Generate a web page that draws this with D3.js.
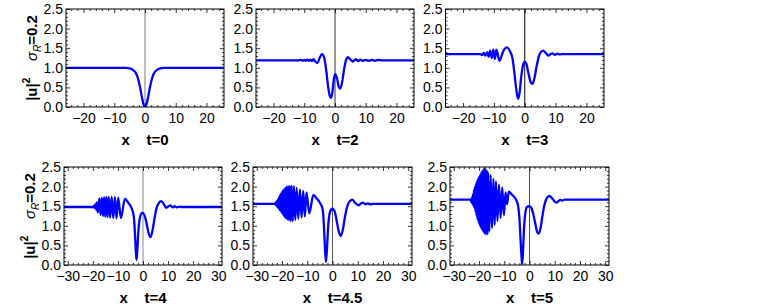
<!DOCTYPE html>
<html><head><meta charset="utf-8">
<script src="https://cdn.jsdelivr.net/npm/d3@7"></script>
<style>
body{margin:0;background:#fff}
text{font-family:"Liberation Sans",Arial,Helvetica,sans-serif}
</style>
</head><body>
<svg id="c" width="758" height="308"></svg>
<script>
// ---- data (x, |u|^2) ----
const times = ["0", "2", "3", "4", "4.5", "5"];
const sigmaLabel = "0.2";
const yTicks = [0, 0.5, 1.0, 1.5, 2.0, 2.5];
const xTicksTop = [-20, -10, 0, 10, 20];
const xTicksBottom = [-30, -20, -10, 0, 10, 20, 30];

const t0 = [[-25.7,1],[-6,1],[-5,0.985],[-4,0.95],[-3,0.87],[-2.5,0.78],[-2,0.64],[-1.5,0.46],[-1,0.25],[-0.5,0.07],[0,0],
  [0.5,0.07],[1,0.25],[1.5,0.46],[2,0.64],[2.5,0.78],[3,0.87],[4,0.95],[5,0.985],[6,1],[25.7,1]];

const t2 = [[-25.7,1.19],[-12,1.19],[-11,1.20],[-10.5,1.18],[-10,1.20],[-9.5,1.18],[-9,1.21],[-8.5,1.18],[-8,1.21],[-7.5,1.17],
  [-7,1.22],[-6.4,1.16],[-5.7,1.12],[-5,1.25],[-4.2,1.35],[-3.5,1.25],[-2.8,0.9],[-2.2,0.5],[-1.7,0.28],[-1.3,0.23],[-0.9,0.35],
  [-0.4,0.7],[0.1,0.84],[0.7,0.72],[1.2,0.52],[1.7,0.47],[2.3,0.62],[3,0.98],[3.6,1.2],[4.1,1.27],[4.8,1.23],[5.8,1.16],[6.8,1.22],
  [7.6,1.17],[8.3,1.21],[9,1.18],[10,1.20],[11,1.18],[12,1.20],[13,1.18],[14,1.20],[15.5,1.19],[25.7,1.19]];

const t3 = [[-25.7,1.35],[-14.5,1.35],[-13.8,1.33],[-13.3,1.38],[-12.8,1.31],[-12.2,1.40],[-11.7,1.28],[-11.2,1.44],[-10.7,1.25],
  [-10.2,1.46],[-9.7,1.23],[-9.2,1.46],[-8.2,1.18],[-7,1.42],[-5.8,1.52],[-4.8,1.42],[-4,1.25],[-3.4,0.9],[-2.9,0.55],[-2.4,0.27],
  [-2.1,0.21],[-1.7,0.35],[-1.1,0.8],[-0.5,1.08],[0,1.16],[0.6,1.08],[1.3,0.82],[2,0.62],[2.5,0.59],[3.1,0.72],[3.8,1.02],[4.6,1.3],
  [5.3,1.41],[6,1.44],[6.8,1.38],[7.7,1.31],[8.4,1.35],[9.0,1.37],[9.8,1.33],[10.6,1.36],[11.3,1.34],[12,1.35],[25.7,1.35]];

const t4 = [[-31.5,1.48],[-20,1.48],[-19.6,1.51],[-19.3,1.45],[-19.0,1.55],[-18.7,1.41],[-18.4,1.60],[-18.0,1.34],
  [-17.4,1.70],[-16.9,1.28],[-16.4,1.72],[-15.95,1.25],[-15.5,1.73],[-15.05,1.23],[-14.6,1.74],[-14.15,1.22],[-13.7,1.74],
  [-13.1,1.21],[-12.5,1.74],[-11.85,1.20],[-11.2,1.73],[-10.55,1.19],[-9.9,1.72],[-8.8,1.20],[-7.2,1.69],[-6,1.6],[-4.6,1.46],
  [-3.7,1.25],[-3.2,0.8],[-2.9,0.4],[-2.6,0.13],[-2.3,0.35],[-1.8,0.9],[-1.2,1.22],[-0.3,1.33],[0.5,1.28],[1.3,1.1],[2.2,0.82],
  [3.0,0.71],[3.7,0.85],[4.5,1.15],[5.4,1.45],[6.3,1.58],[7.2,1.63],[8.2,1.56],[9.2,1.46],[10,1.49],[10.9,1.52],[11.8,1.47],
  [12.6,1.50],[13.5,1.47],[14.5,1.49],[15.5,1.48],[31.5,1.48]];

const t45 = [[-31.5,1.56],[-23,1.56],[-22.7,1.58],[-22.45,1.53],[-22.2,1.62],[-21.95,1.49],[-21.7,1.67],[-21.45,1.45],[-21.2,1.73],
  [-20.95,1.40],[-20.7,1.80],[-20.45,1.36],[-20.2,1.85],[-19.95,1.31],[-19.7,1.90],[-19.45,1.26],[-19.2,1.94],[-18.95,1.22],[-18.7,1.97],
  [-18.45,1.19],[-18.2,2.0],[-17.9,1.16],[-17.6,2.01],[-17.25,1.14],[-16.9,2.02],[-16.55,1.12],[-16.2,2.02],[-15.75,1.12],[-15.3,2.01],
  [-14.75,1.15],[-14.2,1.97],[-13.55,1.18],[-12.9,1.93],[-12.25,1.21],[-11.6,1.89],[-10.95,1.24],[-10.3,1.85],[-9.2,1.32],
  [-7.6,1.79],[-6.3,1.70],[-5,1.59],[-3.9,1.42],[-3.4,1.0],[-3.0,0.45],[-2.6,0.08],[-2.2,0.4],
  [-1.7,1.0],[-1.0,1.35],[-0.1,1.44],[0.8,1.38],[1.6,1.15],[2.5,0.85],[3.3,0.74],[4.1,0.9],[5,1.25],[6,1.53],[7,1.64],[7.9,1.67],
  [9,1.58],[10.4,1.52],[11.3,1.57],[12.1,1.59],[13,1.55],[14,1.57],[15,1.55],[16,1.56],[31.5,1.56]];

const t5 = [[-31.5,1.67],[-23.6,1.67],[-23.3,1.66],[-23.0,1.60],[-22.8,1.72],[-22.6,1.56],[-22.4,1.80],[-22.2,1.50],[-22.0,1.92],
  [-21.8,1.45],[-21.6,2.00],[-21.4,1.35],[-21.2,2.08],[-21.0,1.25],[-20.8,2.15],[-20.55,1.15],[-20.3,2.22],[-20.05,1.06],[-19.8,2.28],
  [-19.55,0.98],[-19.3,2.34],[-19.05,0.92],[-18.8,2.40],[-18.5,0.86],[-18.2,2.45],[-17.9,0.80],[-17.6,2.48],[-17.25,0.77],
  [-16.9,2.42],[-16.65,0.78],[-16.4,2.36],[-15.9,0.86],[-15.4,2.30],[-14.85,0.94],[-14.3,2.2],[-13.8,1.02],[-13.3,2.13],[-12.7,1.12],
  [-12.1,2.05],[-11.45,1.2],[-10.8,1.98],[-10.15,1.27],[-9.5,1.85],[-8.9,1.55],[-8.2,1.87],[-7,1.8],[-6,1.73],[-5.2,1.65],[-4.5,1.5],
  [-4,1.2],[-3.5,0.6],[-3.1,0.15],[-2.9,0.03],[-2.6,0.3],[-2.2,0.9],
  [-1.7,1.3],[-1,1.48],[0,1.5],[0.8,1.45],[1.5,1.3],[2.3,1.05],[3,0.85],[3.7,0.8],[4.4,0.95],[5,1.2],[5.8,1.5],[6.8,1.7],[7.9,1.76],
  [9,1.7],[10,1.62],[10.7,1.59],[11.5,1.63],[12.2,1.66],[13,1.64],[14,1.67],[31.5,1.67]];

const series = [t0, t2, t3, t4, t45, t5];

// ---- layout ----
const frames = [
  {x0:66, x1:224, y0:9, y1:107, dom:25.7, ticks:xTicksTop, axisCol:"#999", labX:37},
  {x0:256, x1:414, y0:9, y1:107, dom:25.7, ticks:xTicksTop, axisCol:"#333", labX:null},
  {x0:445.5, x1:604, y0:9, y1:107, dom:25.7, ticks:xTicksTop, axisCol:"#000", labX:null},
  {x0:64, x1:222, y0:167, y1:265, dom:31.5, ticks:xTicksBottom, axisCol:"#888", labX:35},
  {x0:253, x1:412, y0:167, y1:265, dom:31.5, ticks:xTicksBottom, axisCol:"#555", labX:null},
  {x0:450, x1:609, y0:167, y1:265, dom:31.5, ticks:xTicksBottom, axisCol:"#444", labX:null}
];

const svg = d3.select("#c");
const fmtX = d3.format("d");
const fmtY = d3.format(".1f");

frames.forEach((f, i) => {
  const x = d3.scaleLinear().domain([-f.dom, f.dom]).range([f.x0, f.x1]);
  const y = d3.scaleLinear().domain([0, 2.5]).range([f.y1, f.y0]);
  const g = svg.append("g");
  const majX = f.ticks;
  const minX = d3.range(-30, 31, 2).filter(v => Math.abs(v) <= f.dom && v % 10 !== 0);
  const minY = d3.range(0, 26, 1).map(v => v / 10).filter(v => Math.round(v * 10) % 5 !== 0);

  const clipId = "clip" + i;
  g.append("clipPath").attr("id", clipId).append("rect")
    .attr("x", f.x0).attr("y", f.y0).attr("width", f.x1 - f.x0).attr("height", f.y1 - f.y0);

  // x = 0 axis line
  g.append("line").attr("x1", x(0)).attr("x2", x(0)).attr("y1", f.y0).attr("y2", f.y1)
    .attr("stroke", f.axisCol).attr("stroke-width", i === 0 ? 1.3 : 1);

  // curve
  g.append("path").datum(series[i])
    .attr("clip-path", `url(#${clipId})`)
    .attr("fill", "none").attr("stroke", "#0000ff").attr("stroke-width", 2.3)
    .attr("stroke-linejoin", "round").attr("stroke-linecap", "round")
    .attr("d", d3.line().x(d => x(d[0])).y(d => y(d[1])).curve(d3.curveMonotoneX));

  // inward ticks on all four sides
  const tickAxes = [
    [d3.axisTop(x).tickValues(majX).tickSize(4), `translate(0,${f.y1})`],
    [d3.axisTop(x).tickValues(minX).tickSize(2), `translate(0,${f.y1})`],
    [d3.axisBottom(x).tickValues(majX).tickSize(4), `translate(0,${f.y0})`],
    [d3.axisBottom(x).tickValues(minX).tickSize(2), `translate(0,${f.y0})`],
    [d3.axisRight(y).tickValues(yTicks).tickSize(4), `translate(${f.x0},0)`],
    [d3.axisRight(y).tickValues(minY).tickSize(2), `translate(${f.x0},0)`],
    [d3.axisLeft(y).tickValues(yTicks).tickSize(4), `translate(${f.x1},0)`],
    [d3.axisLeft(y).tickValues(minY).tickSize(2), `translate(${f.x1},0)`]
  ];
  tickAxes.forEach(([ax, tr]) => {
    const a = g.append("g").attr("transform", tr).call(ax.tickFormat(""));
    a.select(".domain").remove();
    a.selectAll("line").attr("stroke", "#000").attr("stroke-width", 0.8);
  });

  // tick labels
  const xl = g.append("g").attr("transform", `translate(0,${f.y1})`)
    .call(d3.axisBottom(x).tickValues(majX).tickSize(0).tickPadding(6).tickFormat(fmtX));
  xl.select(".domain").remove();
  xl.selectAll("text").attr("font-size", 14).attr("fill", "#000")
    .style("font-family", '"Liberation Sans",Arial,sans-serif');

  const yl = g.append("g").attr("transform", `translate(${f.x0},0)`)
    .call(d3.axisLeft(y).tickValues(yTicks).tickSize(0).tickPadding(3).tickFormat(fmtY));
  yl.select(".domain").remove();
  yl.selectAll("text").attr("font-size", 14).attr("fill", "#000")
    .style("font-family", '"Liberation Sans",Arial,sans-serif');

  // frame
  g.append("rect").attr("x", f.x0).attr("y", f.y0).attr("width", f.x1 - f.x0).attr("height", f.y1 - f.y0)
    .attr("fill", "none").attr("stroke", "#000").attr("stroke-width", 1);

  // x label
  g.append("text").attr("x", (f.x0 + f.x1) / 2).attr("y", f.y1 + 38)
    .attr("text-anchor", "middle").attr("font-size", 15).attr("font-weight", "bold")
    .style("white-space", "pre").text("x    t=" + times[i]);

  // y label
  if (f.labX !== null) {
    const cy = (f.y0 + f.y1) / 2;
    const t = g.append("text").attr("transform", `translate(${f.labX},${cy}) rotate(-90)`)
      .attr("text-anchor", "middle").attr("font-size", 15).attr("font-weight", "bold")
      .style("white-space", "pre");
    t.append("tspan").text("|u|");
    t.append("tspan").attr("font-size", 10).attr("dy", -7).text("2");
    t.append("tspan").attr("dy", 7).text("    ");
    t.append("tspan").attr("font-style", "italic").attr("font-weight", "normal").text("σ");
    t.append("tspan").attr("font-style", "italic").attr("font-weight", "normal").attr("font-size", 10).attr("dy", 4).text("R");
    t.append("tspan").attr("dy", -4).text("=" + sigmaLabel);
  }
});
</script>
</body></html>
